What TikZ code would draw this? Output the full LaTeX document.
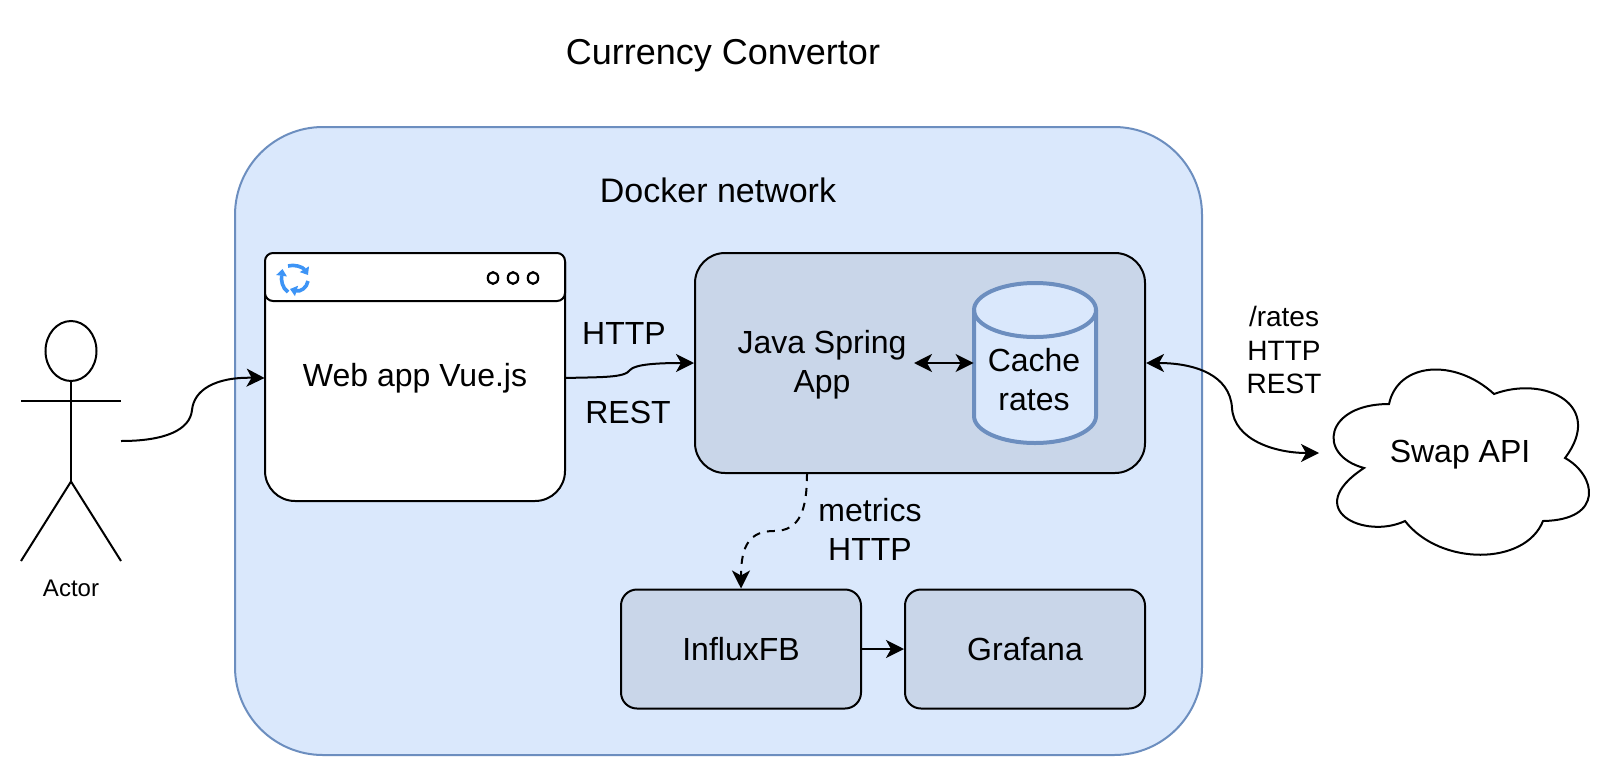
\documentclass[tikz,border=0pt]{standalone}
\usepackage{fontspec}
\setmainfont{Liberation Sans}
\usetikzlibrary{arrows.meta}
\definecolor{netfill}{HTML}{DAE8FC}
\definecolor{netline}{HTML}{6C8EBF}
\definecolor{boxfill}{HTML}{C9D6E9}
\definecolor{iconblue}{HTML}{3D94F6}
\tikzset{
  conn/.style={draw=black,line width=1pt,-{Stealth[length=9pt,width=9pt,inset=2.5pt]}},
  dconn/.style={draw=black,line width=1pt,{Stealth[length=9pt,width=9pt,inset=2.5pt]}-{Stealth[length=9pt,width=9pt,inset=2.5pt]}},
  lbl/.style={inner sep=0pt,align=center,font=\fontsize{16pt}{19.5pt}\selectfont},
  smallbox/.style={draw=black,line width=1pt,fill=boxfill,rounded corners=8pt,inner sep=0pt,font=\fontsize{16pt}{19.5pt}\selectfont,align=center},
  figline/.style={draw=black,line width=1pt},
  iconarc/.style={draw=iconblue,line width=1.8pt,-{Triangle[length=3.4pt,width=5.2pt]}},
}
\begin{document}
\begin{tikzpicture}[x=0.5pt,y=-0.5pt]
\useasboundingbox (0,0) rectangle (1620,776);
\fill[white] (0,0) rectangle (1620,776);
% title
\node[lbl,font=\fontsize{18pt}{22pt}\selectfont] (title) at (723,56) {Currency Convertor};
% docker network
\node[draw=netline,line width=1pt,fill=netfill,rounded corners=44pt,minimum width=967*0.5pt,minimum height=628*0.5pt,inner sep=0pt] (docker) at (718.5,441) {};
\node[lbl,font=\fontsize{17pt}{20pt}\selectfont] (dockerlabel) at (718,190) {Docker network};
% web window
\draw[figline,fill=white,rounded corners=15pt] (265,262) -- (265,501) -- (565,501) -- (565,262);
\draw[figline,fill=white,rounded corners=4pt] (265,253) rectangle (565,301);
\node[lbl,minimum width=300*0.5pt,minimum height=248*0.5pt] (web) at (415,378) {Web app Vue.js};
\draw[iconarc] (288,292) .. controls (282,288) and (281,280) .. (282.5,269);
\draw[iconarc] (288,266) .. controls (294,264) and (303,267) .. (308,275);
\draw[iconarc] (308,281) .. controls (307,288) and (300,292) .. (290,289);
\foreach \cx in {493,513,533}
  \draw[black,line width=1.1pt] (\cx,278) ellipse[x radius=5.2,y radius=5.8];
% java box
\node[smallbox,rounded corners=15pt,minimum width=450*0.5pt,minimum height=220*0.5pt] (java) at (920,363) {};
\node[lbl] (javalabel) at (822,365) {Java Spring\\App};
% cylinder
\draw[draw=netline,line width=2pt,fill=netfill] (974,310) -- (974,416) arc[start angle=180,end angle=0,x radius=61,y radius=27] -- (1096,310) arc[start angle=0,end angle=-180,x radius=61,y radius=27] -- cycle;
\draw[draw=netline,line width=2pt] (974,310) arc[start angle=180,end angle=0,x radius=61,y radius=27];
\node[lbl,minimum width=122*0.5pt,minimum height=160*0.5pt] (cache) at (1035,363) {};
\node[lbl] (cachelabel) at (1034,380) {Cache\\rates};
% lower boxes
\node[smallbox,minimum width=240*0.5pt,minimum height=119*0.5pt] (influx) at (741,649) {InfluxFB};
\node[smallbox,minimum width=240*0.5pt,minimum height=119*0.5pt] (grafana) at (1025,649) {Grafana};
% actor
\draw[figline] (71,351) ellipse[x radius=25.5,y radius=30];
\draw[figline] (71,381) -- (71,481.5);
\draw[figline] (21,400.5) -- (121,400.5);
\draw[figline] (21,561) -- (71,481.5) -- (121,561);
\node[lbl,font=\fontsize{12pt}{14pt}\selectfont] (actor) at (71,588) {Actor};
\coordinate (actorout) at (121,441);
% cloud
\draw[figline,fill=white] (1389,404)
  .. controls (1398,362) and (1455,358) .. (1494,394)
  .. controls (1545,375) and (1605,405) .. (1565,458)
  .. controls (1596,475) and (1605,520) .. (1543,521)
  .. controls (1525,566) and (1440,566) .. (1405,521)
  .. controls (1365,540) and (1300,510) .. (1364,468)
  .. controls (1316,455) and (1325,404) .. (1389,404) -- cycle;
\node[lbl] (swap) at (1460,455) {Swap API};
\coordinate (swapin) at (1319,453);
% text labels
\node[lbl] (httplabel) at (624,333) {HTTP};
\node[lbl] (restlabel) at (628,412) {REST};
\node[lbl,font=\fontsize{14pt}{16.8pt}\selectfont] (rateslabel) at (1284,350) {/rates\\HTTP\\REST};
\node[lbl] (metricslabel) at (870,529) {metrics\\HTTP};
% connectors
\coordinate (javaleft) at (914,363);
\coordinate (javabottom) at (807,473);
\draw[conn] (actorout) .. controls (165,441) and (190,430) .. (192,410) .. controls (194,390) and (215,377) .. (web.west);
\draw[conn] (web.east) .. controls (600,377) and (625,378) .. (630,370) .. controls (635,364) and (660,363) .. (java.west);
\draw[dconn] (javaleft) -- (cache.west);
\draw[dconn] (java.east) .. controls (1195,363) and (1230,375) .. (1232,408) .. controls (1234,440) and (1275,453) .. (swapin);
\draw[conn,dashed,dash pattern=on 4pt off 3.5pt] (javabottom) .. controls (807,510) and (800,531) .. (774,531) .. controls (750,531) and (741,545) .. (influx.north);
\draw[conn] (influx.east) -- (grafana.west);
\end{tikzpicture}
\end{document}
